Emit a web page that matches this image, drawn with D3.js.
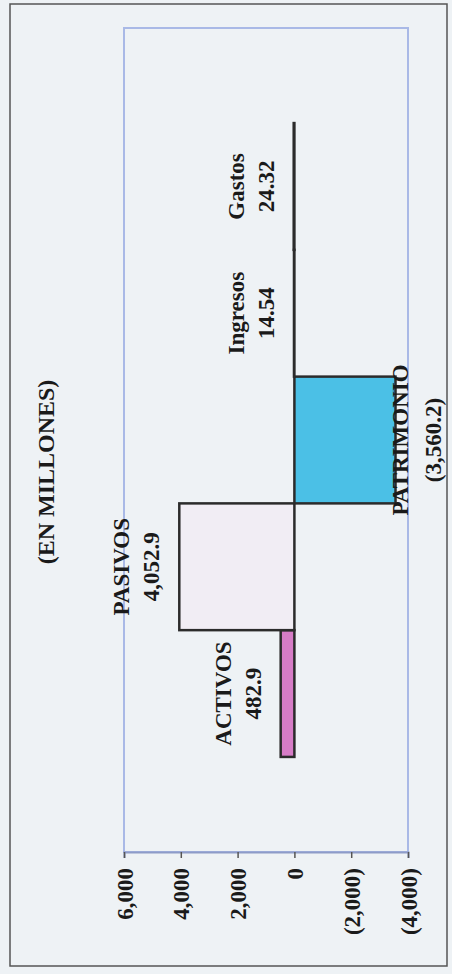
<!DOCTYPE html>
<html>
<head>
<meta charset="utf-8">
<script src="https://cdn.jsdelivr.net/npm/d3@7"></script>
<style>
  html, body { margin: 0; padding: 0; background: #eef2f5; }
  svg { display: block; }
  text { font-family: "Liberation Serif", "Times New Roman", serif; font-weight: bold; fill: #1a1a1a; }
</style>
</head>
<body>
<svg id="chart" width="452" height="974"></svg>
<script>
// chart values
const categories = ["ACTIVOS", "PASIVOS", "PATRIMONIO", "Ingresos", "Gastos"];
const values = [482.9, 4052.9, -3560.2, 14.54, 24.32];
const valueLabels = ["482.9", "4,052.9", "(3,560.2)", "14.54", "24.32"];
const barColors = ["#d67cc6", "#f1edf4", "#4bc0e6", "#ffffff", "#ffffff"];
const tickValues = [6000, 4000, 2000, 0, -2000, -4000];
const tickLabels = ["6,000", "4,000", "2,000", "0", "(2,000)", "(4,000)"];
const title = "(EN MILLONES)";

const svg = d3.select('#chart');

// plot frame (the page is drawn turned a quarter turn)
const plotLeft = 124, plotRight = 408, plotTop = 28, plotBottom = 852;

// outer page border
svg.append("rect")
  .attr("x", 10).attr("y", 4)
  .attr("width", 437).attr("height", 962)
  .attr("fill", "none")
  .attr("stroke", "#555")
  .attr("stroke-width", 1.5);

// value scale runs right to left
const x = d3.scaleLinear()
  .domain([6000, -4000])
  .range([plotLeft, plotRight]);

// categories stacked from bottom up
const y = d3.scaleBand()
  .domain(categories)
  .range([plotBottom, plotTop])
  .paddingInner(0)
  .paddingOuter(0.75);

// blue plot frame
svg.append("rect")
  .attr("x", plotLeft).attr("y", plotTop)
  .attr("width", plotRight - plotLeft).attr("height", plotBottom - plotTop)
  .attr("fill", "none")
  .attr("stroke", "#a9b9e6")
  .attr("stroke-width", 2);

// bars
const data = categories.map((c, i) => ({ name: c, value: values[i], label: valueLabels[i], color: barColors[i] }));

svg.append("g")
  .selectAll("rect")
  .data(data)
  .join("rect")
    .attr("x", d => Math.min(x(0), x(d.value)))
    .attr("y", d => y(d.name))
    .attr("width", d => Math.abs(x(d.value) - x(0)))
    .attr("height", y.bandwidth())
    .attr("fill", d => d.color)
    .attr("stroke", "#2b2b2b")
    .attr("stroke-width", 2.5);

// axis at the bottom with rotated labels
const xAxis = d3.axisBottom(x)
  .tickValues(tickValues)
  .tickSize(6)
  .tickFormat((d, i) => tickLabels[i]);

const ax = svg.append("g")
  .attr("transform", `translate(0, ${plotBottom})`)
  .call(xAxis);

ax.select(".domain").attr("stroke", "#8e9cc8").attr("stroke-width", 2);
ax.selectAll(".tick line").attr("stroke", "#555").attr("stroke-width", 1.5);
ax.selectAll(".tick text")
  .attr("transform", "rotate(-90)")
  .attr("x", -16)
  .attr("y", 0)
  .attr("dy", "0.35em")
  .attr("text-anchor", "end")
  .style("font-family", "'Liberation Serif', serif")
  .style("font-weight", "bold")
  .style("font-size", "23px")
  .attr("fill", "#1a1a1a");

// data labels: name and value, outside the bar end
const labels = svg.append("g")
  .selectAll("g")
  .data(data)
  .join("g");

function labelText(sel, dx, key) {
  sel.append("text")
    .attr("transform", d => {
      const end = x(d.value);
      const cx = d.value >= 0 ? end - dx[0] : end + dx[1];
      const cy = y(d.name) + y.bandwidth() / 2;
      return `translate(${cx}, ${cy}) rotate(-90)`;
    })
    .attr("text-anchor", "middle")
    .attr("dy", "0.35em")
    .style("font-size", "23px")
    .text(d => d[key]);
}

labelText(labels, [58, 4], "name");
labelText(labels, [28, 37], "label");

// title
svg.append("text")
  .attr("transform", "translate(46, 472) rotate(-90)")
  .attr("text-anchor", "middle")
  .attr("dy", "0.35em")
  .style("font-size", "24px")
  .text(title);
</script>
</body>
</html>
